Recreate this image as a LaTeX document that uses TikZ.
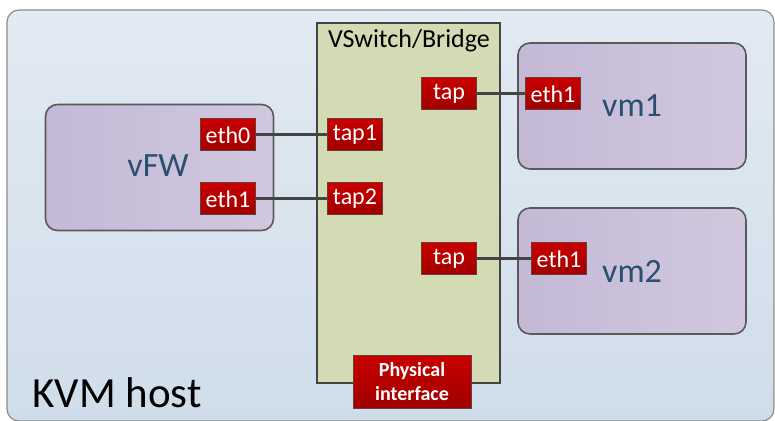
\documentclass[tikz,border=0pt]{standalone}
\usepackage{fontspec}
\setmainfont{Carlito}
\usetikzlibrary{positioning}
\definecolor{hosttop}{HTML}{E2EAF3}
\definecolor{hostbot}{HTML}{CFDDEA}
\definecolor{hostedge}{HTML}{8C8C8C}
\definecolor{bridgefill}{HTML}{D3DBB5}
\definecolor{wire}{HTML}{444444}
\definecolor{vmleft}{HTML}{C3B9D5}
\definecolor{vmright}{HTML}{D1C8DF}
\definecolor{vmedge}{HTML}{5A5A5A}
\definecolor{vmtext}{HTML}{2B4F6F}
\definecolor{portred}{HTML}{C80000}
\definecolor{portdark}{HTML}{A00000}
\definecolor{portedge}{HTML}{6E3A3A}

\begin{document}
\begin{tikzpicture}[x=0.5pt, y=-0.5pt,
        host/.style={draw=hostedge, line width=0.6pt, rounded corners=6pt, top color=hosttop, bottom color=hostbot, minimum width=383.5pt, minimum height=205.5pt, inner sep=0pt},
        bridge/.style={draw=wire, line width=1.4pt, fill=bridgefill, minimum width=91.5pt, minimum height=180pt, inner sep=0pt},
        vmbox/.style={draw=vmedge, line width=0.8pt, rounded corners=6pt, left color=vmleft, right color=vmright, minimum width=114pt, minimum height=63pt, inner sep=0pt},
        port/.style={draw=portedge, line width=0.5pt, top color=portred, bottom color=portdark, text=white, font=\fontsize{12}{14}\selectfont, minimum width=27.5pt, minimum height=16pt, inner sep=0pt},
        wire/.style={draw=wire, line width=1.5pt},
        vmname/.style={text=vmtext, font=\fontsize{17}{20}\selectfont}
    ]
        \useasboundingbox (0,0) rectangle (775,421);

        % Boxes
        \node[host] (host) at (390.5,215.5) {};
        \node[bridge] (vswitch) at (408.5,203) {};
        \node[vmbox] (vfw) at (159.5,167.5) {};
        \node[vmbox] (vm1) at (632,106) {};
        \node[vmbox] (vm2) at (632,271) {};

        % Labels
        \node[anchor=base west, inner sep=0pt, font=\fontsize{21.5}{25}\selectfont] (hostname) at (32,408) {KVM host};
        \node[anchor=base, font=\fontsize{13}{15}\selectfont] (bridgename) at (409,48) {VSwitch/Bridge};
        \node[vmname] (fwname) at (158,166) {vFW};
        \node[vmname] (vm1name) at (632,106) {vm1};
        \node[vmname] (vm2name) at (632,271) {vm2};

        % Ports
        \node[port] (fweth0) at (228,135) {eth0};
        \node[port] (fweth1) at (228,199) {eth1};
        \node[port] (tap1) at (355,135) {tap1};
        \node[port] (tap2) at (355,199) {tap2};
        \node[port] (tapa) at (449,94) {tap};
        \node[port] (tapb) at (449,259) {tap};
        \node[port] (vm1eth1) at (553,94) {eth1};
        \node[port] (vm2eth1) at (559,259) {eth1};
        \node[port, font=\fontsize{10}{12}\selectfont\bfseries, align=center, minimum width=59pt, minimum height=26.5pt] (phys) at (412,382) {Physical\\interface};

        % Links
        \draw[wire] (fweth0) -- (tap1);
        \draw[wire] (fweth1) -- (tap2);
        \draw[wire] (tapa) -- (vm1eth1);
        \draw[wire] (tapb) -- (vm2eth1);
    \end{tikzpicture}
\end{document}
